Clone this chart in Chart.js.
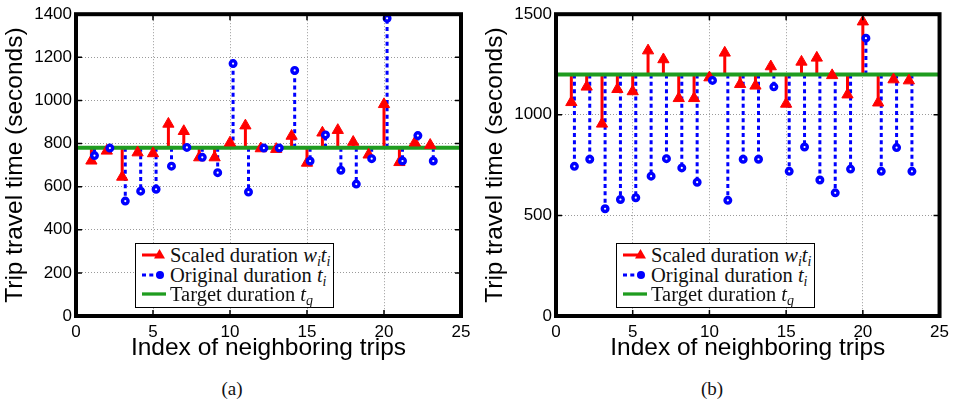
<!DOCTYPE html>
<html lang="en">
<head>
<meta charset="UTF-8">
<title>Trip travel time of neighboring trips</title>
<script src="https://cdn.jsdelivr.net/npm/chart.js"></script>
<style>
  body { margin: 0; background: #fff; }
  .wrap { position: relative; width: 955px; height: 406px; overflow: hidden; }
  .panel { position: absolute; top: 0; }
  .legend {
    position: absolute; top: 243px; width: 197px; height: 63px;
    border: 1px solid #000; background: #fff;
    font-family: "Liberation Serif", "Times New Roman", serif; font-size: 20.5px; color: #111;
  }
  .legend .row { position: absolute; left: 0; width: 197px; height: 20px; line-height: 20px; white-space: nowrap; }
  .legend svg { position: absolute; left: 0; top: 0; }
  .legend .txt { position: absolute; left: 34px; top: 0; }
  .legend sub { font-size: 68%; vertical-align: -0.3em; line-height: 0; }
  .caption {
    position: absolute; top: 378px; width: 60px; text-align: center; line-height: 22px;
    font-family: "Liberation Serif", "Times New Roman", serif; font-size: 19px; color: #111;
  }
</style>
</head>
<body>
<div class="wrap">
  <canvas id="chartA" class="panel" width="478" height="376" style="left:0px"></canvas>
  <canvas id="chartB" class="panel" width="475" height="376" style="left:480px"></canvas>

  <div class="legend" style="left:135px" id="legendA"></div>
  <div class="legend" style="left:616px" id="legendB"></div>

  <div class="caption" style="left:202px">(a)</div>
  <div class="caption" style="left:682px">(b)</div>
</div>

<script>
// values
const tripIndex = [1, 2, 3, 4, 5, 6, 7, 8, 9, 10, 11, 12, 13, 14, 15, 16, 17, 18, 19, 20, 21, 22, 23];
const originalDuration = [744, 779, 533, 579, 588, 695, 782, 736, 665, 1171, 575, 779, 779, 1139, 719, 840, 676, 612, 730, 1381, 719, 837, 719];

const scaledA = [720, 766, 645, 758, 754, 891, 857, 735, 735, 804, 883, 777, 774, 835, 710, 850, 862, 807, 748, 982, 713, 804, 793];
const targetA = 780;

const scaledB = [1062, 1139, 955, 1127, 1116, 1319, 1275, 1082, 1082, 1185, 1308, 1152, 1144, 1240, 1054, 1263, 1283, 1196, 1100, 1463, 1060, 1175, 1170];
const targetB = 1200;

const xTicks = [0, 5, 10, 15, 20, 25];
const yTicksA = [0, 200, 400, 600, 800, 1000, 1200, 1400];
const yTicksB = [0, 500, 1000, 1500];

const xTitle = 'Index of neighboring trips';
const yTitle = 'Trip travel time (seconds)';

const RED = '#ff0000';
const BLUE = '#0000ff';
const GREEN = '#1f9c1f';
const BLUE_SHIFT = 0.2;   // original markers sit a bit right of the scaled ones

// stems: a segment from the target line to each value, broken by null points
function stemPoints(xs, vals, base) {
    const pts = [];
    xs.forEach((x, i) => {
        pts.push({x: x, y: base}, {x: x, y: vals[i]}, {x: x, y: null});
    });
    return pts;
}

function markerPoints(xs, vals) {
    return xs.map((x, i) => ({x: x, y: vals[i]}));
}

// frame with inward ticks, drawn like the MATLAB axes box
const boxPlugin = {
    id: 'box',
    afterDraw(chart) {
        const {ctx, chartArea: a, scales} = chart;
        ctx.save();
        ctx.strokeStyle = '#000';
        ctx.lineWidth = 1.5;
        ctx.beginPath();
        scales.x.ticks.forEach(t => {
            const px = scales.x.getPixelForValue(t.value);
            ctx.moveTo(px, a.bottom); ctx.lineTo(px, a.bottom - 6);
            ctx.moveTo(px, a.top); ctx.lineTo(px, a.top + 6);
        });
        scales.y.ticks.forEach(t => {
            const py = scales.y.getPixelForValue(t.value);
            ctx.moveTo(a.left, py); ctx.lineTo(a.left + 6, py);
            ctx.moveTo(a.right, py); ctx.lineTo(a.right - 6, py);
        });
        ctx.stroke();
        ctx.lineWidth = 4;
        ctx.strokeRect(a.left, a.top, a.right - a.left, a.bottom - a.top);
        ctx.restore();
    }
};

function makeChart(id, scaled, target, yTicks, rightPad) {
    const xsBlue = tripIndex.map(x => x + BLUE_SHIFT);
    const yMax = yTicks[yTicks.length - 1];
    return new Chart(document.getElementById(id), {
        type: 'line',
        data: {
            datasets: [
                {
                    label: 'Original duration',
                    data: markerPoints(xsBlue, originalDuration),
                    showLine: false,
                    pointStyle: 'circle',
                    pointRadius: 2.8,
                    pointBorderWidth: 3.4,
                    pointBackgroundColor: '#fff',
                    pointBorderColor: BLUE,
                    order: 1
                },
                {
                    label: 'Scaled duration',
                    data: markerPoints(tripIndex, scaled),
                    showLine: false,
                    pointStyle: 'triangle',
                    pointRadius: 6.5,
                    pointBorderWidth: 1,
                    pointBackgroundColor: RED,
                    pointBorderColor: RED,
                    order: 2
                },
                {
                    label: 'Target duration',
                    data: [{x: xTicks[0], y: target}, {x: xTicks[xTicks.length - 1], y: target}],
                    borderColor: GREEN,
                    borderWidth: 4,
                    pointRadius: 0,
                    order: 3
                },
                {
                    label: 'Original stems',
                    data: stemPoints(xsBlue, originalDuration, target),
                    borderColor: BLUE,
                    borderWidth: 3,
                    borderDash: [4, 3.3],
                    borderCapStyle: 'butt',
                    pointRadius: 0,
                    spanGaps: false,
                    order: 4
                },
                {
                    label: 'Scaled stems',
                    data: stemPoints(tripIndex, scaled, target),
                    borderColor: RED,
                    borderWidth: 3,
                    pointRadius: 0,
                    spanGaps: false,
                    order: 5
                }
            ]
        },
        options: {
            responsive: false,
            animation: false,
            layout: {padding: {top: 10, right: rightPad, bottom: 0, left: 0}},
            plugins: {legend: {display: false}, tooltip: {enabled: false}},
            scales: {
                x: {
                    type: 'linear',
                    min: xTicks[0],
                    max: xTicks[xTicks.length - 1],
                    afterBuildTicks: s => { s.ticks = xTicks.map(v => ({value: v})); },
                    afterFit: s => { s.height = 60; },
                    grid: {color: '#9a9a9a', lineWidth: 1, drawTicks: false},
                    border: {display: false, dash: [1, 2]},
                    ticks: {color: '#000', padding: 6, callback: v => String(v),
                            font: {family: 'Liberation Sans', size: 17}},
                    title: {display: true, text: xTitle, color: '#000',
                            padding: {top: 0, bottom: 13}, font: {family: 'Liberation Sans', size: 24.5}}
                },
                y: {
                    min: 0,
                    max: yMax,
                    afterBuildTicks: s => { s.ticks = yTicks.map(v => ({value: v})); },
                    afterFit: s => { s.width = 76; },
                    grid: {color: '#9a9a9a', lineWidth: 1, drawTicks: false},
                    border: {display: false, dash: [1, 2]},
                    ticks: {color: '#000', padding: 4, callback: v => String(v),
                            font: {family: 'Liberation Sans', size: 17}},
                    title: {display: true, text: yTitle, color: '#000',
                            padding: {top: 1, bottom: 0}, font: {family: 'Liberation Sans', size: 24.5}}
                }
            }
        },
        plugins: [boxPlugin]
    });
}

makeChart('chartA', scaledA, targetA, yTicksA, 17);
makeChart('chartB', scaledB, targetB, yTicksB, 14);

// legend boxes as real text
function fillLegend(id) {
    const rows = [
        {
            top: 1,
            svg: '<line x1="6" y1="10" x2="24" y2="10" stroke="' + RED + '" stroke-width="3"/>' +
                 '<polygon points="23.5,4 29,13.5 18,13.5" fill="' + RED + '"/>',
            html: 'Scaled duration <i>w</i><sub><i>i</i></sub><i>t</i><sub><i>i</i></sub>'
        },
        {
            top: 20.5,
            svg: '<line x1="6" y1="10" x2="22" y2="10" stroke="' + BLUE + '" stroke-width="3" stroke-dasharray="4,3.3"/>' +
                 '<circle cx="24" cy="10" r="4" fill="' + BLUE + '"/>',
            html: 'Original duration <i>t</i><sub><i>i</i></sub>'
        },
        {
            top: 40,
            svg: '<line x1="6" y1="10" x2="30" y2="10" stroke="' + GREEN + '" stroke-width="3.3"/>',
            html: 'Target duration <i>t</i><sub><i>q</i></sub>'
        }
    ];
    document.getElementById(id).innerHTML = rows.map(r =>
        '<div class="row" style="top:' + r.top + 'px">' +
        '<svg width="32" height="20">' + r.svg + '</svg>' +
        '<span class="txt">' + r.html + '</span></div>'
    ).join('');
}
fillLegend('legendA');
fillLegend('legendB');
</script>
</body>
</html>
